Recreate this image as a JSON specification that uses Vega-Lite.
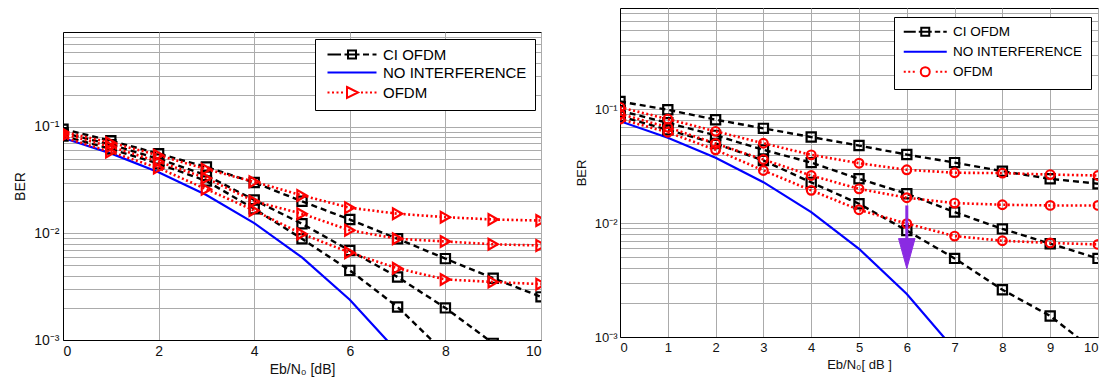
{
  "$schema": "https://vega.github.io/schema/vega-lite/v6.json",
  "background": "white",
  "padding": {"left": 13, "top": 6, "right": 0, "bottom": 0},
  "spacing": 32,
  "config": {
    "font": "Liberation Sans",
    "view": {"stroke": "black", "strokeWidth": 1},
    "axis": {
      "domainColor": "black",
      "gridColor": "#ababab",
      "gridOpacity": 1,
      "gridWidth": 1,
      "ticks": false,
      "labelColor": "#111111",
      "titleColor": "#111111",
      "labelFont": "Liberation Sans",
      "titleFont": "Liberation Sans",
      "titleFontWeight": "normal",
      "labelOverlap": false
    },
    "legend": {
      "labelFont": "Liberation Sans",
      "labelColor": "black",
      "strokeColor": "black",
      "fillColor": "white",
      "symbolStrokeWidth": 2,
      "symbolSize": 100,
      "padding": 8,
      "rowPadding": 4
    }
  },
  "datasets": {
    "left": [
      {"x": 0, "ber": 0.0786, "curve": "N", "type": "none"},
      {"x": 1, "ber": 0.0563, "curve": "N", "type": "none"},
      {"x": 2, "ber": 0.0375, "curve": "N", "type": "none"},
      {"x": 3, "ber": 0.0229, "curve": "N", "type": "none"},
      {"x": 4, "ber": 0.0125, "curve": "N", "type": "none"},
      {"x": 5, "ber": 0.00595, "curve": "N", "type": "none"},
      {"x": 6, "ber": 0.00239, "curve": "N", "type": "none"},
      {"x": 7, "ber": 0.000773, "curve": "N", "type": "none"},
      {"x": 0, "ber": 0.095, "curve": "A", "type": "ci"},
      {"x": 1, "ber": 0.074, "curve": "A", "type": "ci"},
      {"x": 2, "ber": 0.056, "curve": "A", "type": "ci"},
      {"x": 3, "ber": 0.042, "curve": "A", "type": "ci"},
      {"x": 4, "ber": 0.030, "curve": "A", "type": "ci"},
      {"x": 5, "ber": 0.020, "curve": "A", "type": "ci"},
      {"x": 6, "ber": 0.0135, "curve": "A", "type": "ci"},
      {"x": 7, "ber": 0.0089, "curve": "A", "type": "ci"},
      {"x": 8, "ber": 0.0058, "curve": "A", "type": "ci"},
      {"x": 9, "ber": 0.0038, "curve": "A", "type": "ci"},
      {"x": 10, "ber": 0.00254, "curve": "A", "type": "ci"},
      {"x": 0, "ber": 0.088, "curve": "B", "type": "ci"},
      {"x": 1, "ber": 0.068, "curve": "B", "type": "ci"},
      {"x": 2, "ber": 0.050, "curve": "B", "type": "ci"},
      {"x": 3, "ber": 0.035, "curve": "B", "type": "ci"},
      {"x": 4, "ber": 0.0206, "curve": "B", "type": "ci"},
      {"x": 5, "ber": 0.0123, "curve": "B", "type": "ci"},
      {"x": 6, "ber": 0.0069, "curve": "B", "type": "ci"},
      {"x": 7, "ber": 0.0039, "curve": "B", "type": "ci"},
      {"x": 8, "ber": 0.0020, "curve": "B", "type": "ci"},
      {"x": 9, "ber": 0.00093, "curve": "B", "type": "ci"},
      {"x": 0, "ber": 0.082, "curve": "C", "type": "ci"},
      {"x": 1, "ber": 0.062, "curve": "C", "type": "ci"},
      {"x": 2, "ber": 0.045, "curve": "C", "type": "ci"},
      {"x": 3, "ber": 0.031, "curve": "C", "type": "ci"},
      {"x": 4, "ber": 0.017, "curve": "C", "type": "ci"},
      {"x": 5, "ber": 0.0089, "curve": "C", "type": "ci"},
      {"x": 6, "ber": 0.0045, "curve": "C", "type": "ci"},
      {"x": 7, "ber": 0.00204, "curve": "C", "type": "ci"},
      {"x": 8, "ber": 0.00075, "curve": "C", "type": "ci"},
      {"x": 0, "ber": 0.090, "curve": "D", "type": "ofdm"},
      {"x": 1, "ber": 0.071, "curve": "D", "type": "ofdm"},
      {"x": 2, "ber": 0.054, "curve": "D", "type": "ofdm"},
      {"x": 3, "ber": 0.040, "curve": "D", "type": "ofdm"},
      {"x": 4, "ber": 0.0305, "curve": "D", "type": "ofdm"},
      {"x": 5, "ber": 0.0227, "curve": "D", "type": "ofdm"},
      {"x": 6, "ber": 0.0174, "curve": "D", "type": "ofdm"},
      {"x": 7, "ber": 0.0153, "curve": "D", "type": "ofdm"},
      {"x": 8, "ber": 0.0142, "curve": "D", "type": "ofdm"},
      {"x": 9, "ber": 0.0135, "curve": "D", "type": "ofdm"},
      {"x": 10, "ber": 0.0132, "curve": "D", "type": "ofdm"},
      {"x": 0, "ber": 0.086, "curve": "E", "type": "ofdm"},
      {"x": 1, "ber": 0.065, "curve": "E", "type": "ofdm"},
      {"x": 2, "ber": 0.047, "curve": "E", "type": "ofdm"},
      {"x": 3, "ber": 0.033, "curve": "E", "type": "ofdm"},
      {"x": 4, "ber": 0.020, "curve": "E", "type": "ofdm"},
      {"x": 5, "ber": 0.0153, "curve": "E", "type": "ofdm"},
      {"x": 6, "ber": 0.0107, "curve": "E", "type": "ofdm"},
      {"x": 7, "ber": 0.0089, "curve": "E", "type": "ofdm"},
      {"x": 8, "ber": 0.0084, "curve": "E", "type": "ofdm"},
      {"x": 9, "ber": 0.0079, "curve": "E", "type": "ofdm"},
      {"x": 10, "ber": 0.0077, "curve": "E", "type": "ofdm"},
      {"x": 0, "ber": 0.080, "curve": "F", "type": "ofdm"},
      {"x": 1, "ber": 0.058, "curve": "F", "type": "ofdm"},
      {"x": 2, "ber": 0.041, "curve": "F", "type": "ofdm"},
      {"x": 3, "ber": 0.026, "curve": "F", "type": "ofdm"},
      {"x": 4, "ber": 0.0164, "curve": "F", "type": "ofdm"},
      {"x": 5, "ber": 0.0099, "curve": "F", "type": "ofdm"},
      {"x": 6, "ber": 0.0066, "curve": "F", "type": "ofdm"},
      {"x": 7, "ber": 0.0047, "curve": "F", "type": "ofdm"},
      {"x": 8, "ber": 0.0037, "curve": "F", "type": "ofdm"},
      {"x": 9, "ber": 0.0035, "curve": "F", "type": "ofdm"},
      {"x": 10, "ber": 0.00334, "curve": "F", "type": "ofdm"}
    ],
    "right": [
      {"x": 0, "ber": 0.0786, "curve": "N", "type": "none"},
      {"x": 1, "ber": 0.0563, "curve": "N", "type": "none"},
      {"x": 2, "ber": 0.0375, "curve": "N", "type": "none"},
      {"x": 3, "ber": 0.0229, "curve": "N", "type": "none"},
      {"x": 4, "ber": 0.0125, "curve": "N", "type": "none"},
      {"x": 5, "ber": 0.00595, "curve": "N", "type": "none"},
      {"x": 6, "ber": 0.00239, "curve": "N", "type": "none"},
      {"x": 7, "ber": 0.000773, "curve": "N", "type": "none"},
      {"x": 0, "ber": 0.117, "curve": "A", "type": "ci"},
      {"x": 1, "ber": 0.099, "curve": "A", "type": "ci"},
      {"x": 2, "ber": 0.081, "curve": "A", "type": "ci"},
      {"x": 3, "ber": 0.068, "curve": "A", "type": "ci"},
      {"x": 4, "ber": 0.057, "curve": "A", "type": "ci"},
      {"x": 5, "ber": 0.048, "curve": "A", "type": "ci"},
      {"x": 6, "ber": 0.040, "curve": "A", "type": "ci"},
      {"x": 7, "ber": 0.034, "curve": "A", "type": "ci"},
      {"x": 8, "ber": 0.0286, "curve": "A", "type": "ci"},
      {"x": 9, "ber": 0.0245, "curve": "A", "type": "ci"},
      {"x": 10, "ber": 0.0222, "curve": "A", "type": "ci"},
      {"x": 0, "ber": 0.097, "curve": "B", "type": "ci"},
      {"x": 1, "ber": 0.076, "curve": "B", "type": "ci"},
      {"x": 2, "ber": 0.059, "curve": "B", "type": "ci"},
      {"x": 3, "ber": 0.044, "curve": "B", "type": "ci"},
      {"x": 4, "ber": 0.034, "curve": "B", "type": "ci"},
      {"x": 5, "ber": 0.0245, "curve": "B", "type": "ci"},
      {"x": 6, "ber": 0.0181, "curve": "B", "type": "ci"},
      {"x": 7, "ber": 0.0125, "curve": "B", "type": "ci"},
      {"x": 8, "ber": 0.0089, "curve": "B", "type": "ci"},
      {"x": 9, "ber": 0.0066, "curve": "B", "type": "ci"},
      {"x": 10, "ber": 0.0049, "curve": "B", "type": "ci"},
      {"x": 0, "ber": 0.087, "curve": "C", "type": "ci"},
      {"x": 1, "ber": 0.066, "curve": "C", "type": "ci"},
      {"x": 2, "ber": 0.050, "curve": "C", "type": "ci"},
      {"x": 3, "ber": 0.0355, "curve": "C", "type": "ci"},
      {"x": 4, "ber": 0.0228, "curve": "C", "type": "ci"},
      {"x": 5, "ber": 0.0148, "curve": "C", "type": "ci"},
      {"x": 6, "ber": 0.0086, "curve": "C", "type": "ci"},
      {"x": 7, "ber": 0.0049, "curve": "C", "type": "ci"},
      {"x": 8, "ber": 0.0026, "curve": "C", "type": "ci"},
      {"x": 9, "ber": 0.00153, "curve": "C", "type": "ci"},
      {"x": 10, "ber": 0.00072, "curve": "C", "type": "ci"},
      {"x": 0, "ber": 0.104, "curve": "D", "type": "ofdm"},
      {"x": 1, "ber": 0.082, "curve": "D", "type": "ofdm"},
      {"x": 2, "ber": 0.064, "curve": "D", "type": "ofdm"},
      {"x": 3, "ber": 0.0503, "curve": "D", "type": "ofdm"},
      {"x": 4, "ber": 0.0398, "curve": "D", "type": "ofdm"},
      {"x": 5, "ber": 0.0336, "curve": "D", "type": "ofdm"},
      {"x": 6, "ber": 0.0294, "curve": "D", "type": "ofdm"},
      {"x": 7, "ber": 0.0277, "curve": "D", "type": "ofdm"},
      {"x": 8, "ber": 0.0275, "curve": "D", "type": "ofdm"},
      {"x": 9, "ber": 0.0267, "curve": "D", "type": "ofdm"},
      {"x": 10, "ber": 0.0262, "curve": "D", "type": "ofdm"},
      {"x": 0, "ber": 0.091, "curve": "E", "type": "ofdm"},
      {"x": 1, "ber": 0.0695, "curve": "E", "type": "ofdm"},
      {"x": 2, "ber": 0.050, "curve": "E", "type": "ofdm"},
      {"x": 3, "ber": 0.0362, "curve": "E", "type": "ofdm"},
      {"x": 4, "ber": 0.0262, "curve": "E", "type": "ofdm"},
      {"x": 5, "ber": 0.020, "curve": "E", "type": "ofdm"},
      {"x": 6, "ber": 0.0167, "curve": "E", "type": "ofdm"},
      {"x": 7, "ber": 0.015, "curve": "E", "type": "ofdm"},
      {"x": 8, "ber": 0.0145, "curve": "E", "type": "ofdm"},
      {"x": 9, "ber": 0.0143, "curve": "E", "type": "ofdm"},
      {"x": 10, "ber": 0.0143, "curve": "E", "type": "ofdm"},
      {"x": 0, "ber": 0.082, "curve": "F", "type": "ofdm"},
      {"x": 1, "ber": 0.0628, "curve": "F", "type": "ofdm"},
      {"x": 2, "ber": 0.044, "curve": "F", "type": "ofdm"},
      {"x": 3, "ber": 0.029, "curve": "F", "type": "ofdm"},
      {"x": 4, "ber": 0.0194, "curve": "F", "type": "ofdm"},
      {"x": 5, "ber": 0.0131, "curve": "F", "type": "ofdm"},
      {"x": 6, "ber": 0.0099, "curve": "F", "type": "ofdm"},
      {"x": 7, "ber": 0.0077, "curve": "F", "type": "ofdm"},
      {"x": 8, "ber": 0.0070, "curve": "F", "type": "ofdm"},
      {"x": 9, "ber": 0.0067, "curve": "F", "type": "ofdm"},
      {"x": 10, "ber": 0.0065, "curve": "F", "type": "ofdm"}
    ],
    "series": [
      {"series": "CI OFDM"},
      {"series": "NO INTERFERENCE"},
      {"series": "OFDM"}
    ],
    "arrow": [{"x": 6, "ber": 0.0143, "ber2": 0.0066}],
    "arrowhead": [{"x": 6, "ber": 0.0054}]
  },
  "hconcat": [
    {
      "spacing": 20,
      "vconcat": [
        {
          "width": 478,
          "height": 1,
          "view": {"stroke": null, "fill": null},
          "data": {"values": [{"k": 1}]},
          "mark": {"type": "point", "opacity": 0, "size": 0}
        },
        {
          "width": 478,
          "height": 308,
          "data": {"name": "left"},
          "encoding": {
            "x": {"field": "x", "type": "quantitative",
              "scale": {"domain": [0, 10], "nice": false, "zero": false},
              "axis": {"values": [0, 2, 4, 6, 8, 10], "title": "Eb/N₀ [dB]", "labelFontSize": 14, "titleFontSize": 14, "labelPadding": 4, "titlePadding": 4}},
            "y": {"field": "ber", "type": "quantitative",
              "scale": {"type": "log", "domain": [0.001, 0.775], "nice": false},
              "axis": {"values": [0.001, 0.002, 0.003, 0.004, 0.005, 0.006, 0.007, 0.008, 0.009, 0.01, 0.02, 0.03, 0.04, 0.05, 0.06, 0.07, 0.08, 0.09, 0.1, 0.2, 0.3, 0.4, 0.5, 0.6, 0.7],
                "labelExpr": "datum.value == 0.1 ? '10⁻¹' : datum.value == 0.01 ? '10⁻²' : datum.value == 0.001 ? '10⁻³' : ''",
                "title": "BER", "labelFontSize": 14, "titleFontSize": 14, "labelPadding": 4, "titlePadding": 6}}
          },
          "layer": [
            {"transform": [{"filter": "datum.type == 'none'"}],
             "mark": {"type": "line", "stroke": "#0000ff", "strokeWidth": 2.2, "clip": true},
             "encoding": {"detail": {"field": "curve"}}},
            {"transform": [{"filter": "datum.type == 'ci'"}],
             "mark": {"type": "line", "stroke": "black", "strokeWidth": 2.4, "strokeDash": [6, 4], "clip": true},
             "encoding": {"detail": {"field": "curve"}}},
            {"transform": [{"filter": "datum.type == 'ci'"}],
             "mark": {"type": "point", "shape": "square", "filled": false, "stroke": "black", "strokeWidth": 2.2, "size": 85, "opacity": 1, "clip": true}},
            {"transform": [{"filter": "datum.type == 'ofdm'"}],
             "mark": {"type": "line", "stroke": "#ff0000", "strokeWidth": 2.6, "strokeDash": [2, 2.5], "clip": true},
             "encoding": {"detail": {"field": "curve"}}},
            {"transform": [{"filter": "datum.type == 'ofdm'"}],
             "mark": {"type": "point", "shape": "triangle-right", "filled": false, "stroke": "#ff0000", "strokeWidth": 2.2, "size": 115, "opacity": 1, "clip": true}},
            {"data": {"name": "series"},
             "transform": [{"filter": "false"}],
             "mark": {"type": "point", "filled": false, "strokeWidth": 2, "opacity": 1},
             "encoding": {
               "color": {"field": "series", "type": "nominal",
                 "scale": {"domain": ["CI OFDM", "NO INTERFERENCE", "OFDM"], "range": ["black", "#0000ff", "#ff0000"]},
                 "legend": {"title": null, "orient": "none", "legendX": 252, "legendY": 31, "labelFontSize": 15, "symbolOffset": 21.5, "labelOffset": 23.5, "rowPadding": 2}},
               "shape": {"field": "series", "type": "nominal",
                 "scale": {"domain": ["CI OFDM", "NO INTERFERENCE", "OFDM"],
                   "range": ["M-4.9,0H-2.2M-1.5,0H1.5M-0.8,-0.8H0.8V0.8H-0.8ZM2.2,0H3.4M4.1,0H4.9",
                             "M-4.9,0H4.9",
                             "M-4.9,0H-4.5M-4,0H-3.6M-3.1,0H-2.7M-2.2,0H-1.8M-1,-1.1L1.2,0L-1,1.1ZM1.8,0H2.2M2.7,0H3.1M3.6,0H4M4.5,0H4.9"]},
                 "legend": {"title": null, "orient": "none", "legendX": 252, "legendY": 31, "labelFontSize": 15, "symbolOffset": 21.5, "labelOffset": 23.5, "rowPadding": 2}}
             }}
          ]
        }
      ]
    },
    {
      "width": 478,
      "height": 329,
      "data": {"name": "right"},
      "encoding": {
        "x": {"field": "x", "type": "quantitative",
          "scale": {"domain": [0, 10], "nice": false, "zero": false},
          "axis": {"values": [0, 1, 2, 3, 4, 5, 6, 7, 8, 9, 10], "title": "Eb/N₀[ dB ]", "labelFontSize": 13, "titleFontSize": 13, "labelPadding": 4, "titlePadding": 4}},
        "y": {"field": "ber", "type": "quantitative",
          "scale": {"type": "log", "domain": [0.001, 0.775], "nice": false},
          "axis": {"values": [0.001, 0.002, 0.003, 0.004, 0.005, 0.006, 0.007, 0.008, 0.009, 0.01, 0.02, 0.03, 0.04, 0.05, 0.06, 0.07, 0.08, 0.09, 0.1, 0.2, 0.3, 0.4, 0.5, 0.6, 0.7],
            "labelExpr": "datum.value == 0.1 ? '10⁻¹' : datum.value == 0.01 ? '10⁻²' : datum.value == 0.001 ? '10⁻³' : ''",
            "title": "BER", "labelFontSize": 13, "titleFontSize": 13, "labelPadding": 3, "titlePadding": 6}}
      },
      "layer": [
        {"transform": [{"filter": "datum.type == 'none'"}],
         "mark": {"type": "line", "stroke": "#0000ff", "strokeWidth": 2.2, "clip": true},
         "encoding": {"detail": {"field": "curve"}}},
        {"transform": [{"filter": "datum.type == 'ci'"}],
         "mark": {"type": "line", "stroke": "black", "strokeWidth": 2.4, "strokeDash": [6, 4], "clip": true},
         "encoding": {"detail": {"field": "curve"}}},
        {"transform": [{"filter": "datum.type == 'ci'"}],
         "mark": {"type": "point", "shape": "square", "filled": false, "stroke": "black", "strokeWidth": 2.2, "size": 85, "opacity": 1, "clip": true}},
        {"transform": [{"filter": "datum.type == 'ofdm'"}],
         "mark": {"type": "line", "stroke": "#ff0000", "strokeWidth": 2.6, "strokeDash": [2, 2.5], "clip": true},
         "encoding": {"detail": {"field": "curve"}}},
        {"transform": [{"filter": "datum.type == 'ofdm'"}],
         "mark": {"type": "point", "shape": "circle", "filled": false, "stroke": "#ff0000", "strokeWidth": 2.2, "size": 75, "opacity": 1, "clip": true}},
        {"data": {"name": "arrow"},
         "mark": {"type": "rule", "stroke": "#8a2be2", "strokeWidth": 3},
         "encoding": {"y2": {"field": "ber2"}}},
        {"data": {"name": "arrowhead"},
         "mark": {"type": "point", "shape": "M-0.55,-1L0.55,-1L0,1Z", "filled": true, "fill": "#8a2be2", "stroke": "#8a2be2", "strokeWidth": 1, "size": 900, "opacity": 1}},
        {"data": {"name": "series"},
         "transform": [{"filter": "false"}],
         "mark": {"type": "point", "filled": false, "strokeWidth": 2, "opacity": 1},
         "encoding": {
           "color": {"field": "series", "type": "nominal",
             "scale": {"domain": ["CI OFDM", "NO INTERFERENCE", "OFDM"], "range": ["black", "#0000ff", "#ff0000"]},
             "legend": {"title": null, "orient": "none", "legendX": 274, "legendY": 9, "labelFontSize": 13.5, "symbolOffset": 16.5, "labelOffset": 21, "rowPadding": 4}},
           "shape": {"field": "series", "type": "nominal",
             "scale": {"domain": ["CI OFDM", "NO INTERFERENCE", "OFDM"],
               "range": ["M-4.3,0H-1.9M-1.3,0H1.3M-0.8,-0.8H0.8V0.8H-0.8ZM1.9,0H3M3.6,0H4.3",
                         "M-4.3,0H4.3",
                         "M-4.3,0H-3.9M-3.4,0H-3M-2.5,0H-2.1M-0.9,0A0.9,0.9 0 1,0 0.9,0A0.9,0.9 0 1,0 -0.9,0ZM2.1,0H2.5M3,0H3.4M3.9,0H4.3"]},
             "legend": {"title": null, "orient": "none", "legendX": 274, "legendY": 9, "labelFontSize": 13.5, "symbolOffset": 16.5, "labelOffset": 21, "rowPadding": 4}}
         }}
      ]
    }
  ],
  "resolve": {
    "scale": {"x": "independent", "y": "independent", "color": "independent", "shape": "independent"},
    "legend": {"color": "independent", "shape": "independent"}
  }
}
